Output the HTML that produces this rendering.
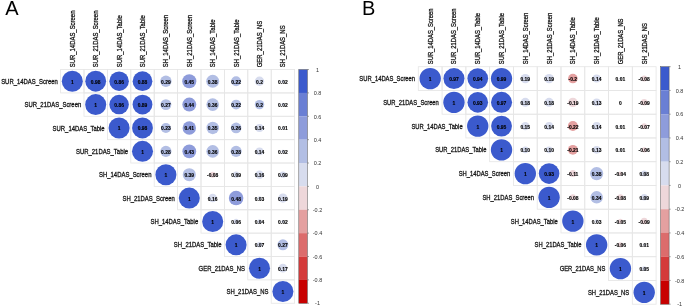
<!DOCTYPE html>
<html><head><meta charset="utf-8"><style>
html,body{margin:0;padding:0;background:#fff;width:685px;height:307px;overflow:hidden}
svg{display:block;will-change:transform}
text{font-family:"Liberation Sans",sans-serif}
</style></head><body>
<svg width="685" height="307" viewBox="0 0 685 307">
<rect width="685" height="307" fill="#fff"/>
<g fill="none" stroke="#e6e6e6" stroke-width="0.85"><rect x="60.60" y="69.55" width="23.40" height="23.37"/><rect x="84.00" y="69.55" width="23.40" height="23.37"/><rect x="107.40" y="69.55" width="23.40" height="23.37"/><rect x="130.80" y="69.55" width="23.40" height="23.37"/><rect x="154.20" y="69.55" width="23.40" height="23.37"/><rect x="177.60" y="69.55" width="23.40" height="23.37"/><rect x="201.00" y="69.55" width="23.40" height="23.37"/><rect x="224.40" y="69.55" width="23.40" height="23.37"/><rect x="247.80" y="69.55" width="23.40" height="23.37"/><rect x="271.20" y="69.55" width="23.40" height="23.37"/><rect x="84.00" y="92.92" width="23.40" height="23.37"/><rect x="107.40" y="92.92" width="23.40" height="23.37"/><rect x="130.80" y="92.92" width="23.40" height="23.37"/><rect x="154.20" y="92.92" width="23.40" height="23.37"/><rect x="177.60" y="92.92" width="23.40" height="23.37"/><rect x="201.00" y="92.92" width="23.40" height="23.37"/><rect x="224.40" y="92.92" width="23.40" height="23.37"/><rect x="247.80" y="92.92" width="23.40" height="23.37"/><rect x="271.20" y="92.92" width="23.40" height="23.37"/><rect x="107.40" y="116.29" width="23.40" height="23.37"/><rect x="130.80" y="116.29" width="23.40" height="23.37"/><rect x="154.20" y="116.29" width="23.40" height="23.37"/><rect x="177.60" y="116.29" width="23.40" height="23.37"/><rect x="201.00" y="116.29" width="23.40" height="23.37"/><rect x="224.40" y="116.29" width="23.40" height="23.37"/><rect x="247.80" y="116.29" width="23.40" height="23.37"/><rect x="271.20" y="116.29" width="23.40" height="23.37"/><rect x="130.80" y="139.66" width="23.40" height="23.37"/><rect x="154.20" y="139.66" width="23.40" height="23.37"/><rect x="177.60" y="139.66" width="23.40" height="23.37"/><rect x="201.00" y="139.66" width="23.40" height="23.37"/><rect x="224.40" y="139.66" width="23.40" height="23.37"/><rect x="247.80" y="139.66" width="23.40" height="23.37"/><rect x="271.20" y="139.66" width="23.40" height="23.37"/><rect x="154.20" y="163.03" width="23.40" height="23.37"/><rect x="177.60" y="163.03" width="23.40" height="23.37"/><rect x="201.00" y="163.03" width="23.40" height="23.37"/><rect x="224.40" y="163.03" width="23.40" height="23.37"/><rect x="247.80" y="163.03" width="23.40" height="23.37"/><rect x="271.20" y="163.03" width="23.40" height="23.37"/><rect x="177.60" y="186.40" width="23.40" height="23.37"/><rect x="201.00" y="186.40" width="23.40" height="23.37"/><rect x="224.40" y="186.40" width="23.40" height="23.37"/><rect x="247.80" y="186.40" width="23.40" height="23.37"/><rect x="271.20" y="186.40" width="23.40" height="23.37"/><rect x="201.00" y="209.77" width="23.40" height="23.37"/><rect x="224.40" y="209.77" width="23.40" height="23.37"/><rect x="247.80" y="209.77" width="23.40" height="23.37"/><rect x="271.20" y="209.77" width="23.40" height="23.37"/><rect x="224.40" y="233.14" width="23.40" height="23.37"/><rect x="247.80" y="233.14" width="23.40" height="23.37"/><rect x="271.20" y="233.14" width="23.40" height="23.37"/><rect x="247.80" y="256.51" width="23.40" height="23.37"/><rect x="271.20" y="256.51" width="23.40" height="23.37"/><rect x="271.20" y="279.88" width="23.40" height="23.37"/></g>
<g><circle cx="72.30" cy="81.23" r="10.52" fill="#3b5acd"/><circle cx="95.70" cy="81.23" r="10.41" fill="#3b5acd"/><circle cx="119.10" cy="81.23" r="9.75" fill="#3b5acd"/><circle cx="142.50" cy="81.23" r="9.87" fill="#3b5acd"/><circle cx="165.90" cy="81.23" r="5.66" fill="#b2bee4"/><circle cx="189.30" cy="81.23" r="7.05" fill="#8e9cdb"/><circle cx="212.70" cy="81.23" r="6.48" fill="#b2bee4"/><circle cx="236.10" cy="81.23" r="4.93" fill="#b2bee4"/><circle cx="259.50" cy="81.23" r="4.69" fill="#d7dcee"/><circle cx="282.90" cy="81.23" r="1.49" fill="#d7dcee"/><circle cx="95.70" cy="104.60" r="10.52" fill="#3b5acd"/><circle cx="119.10" cy="104.60" r="9.75" fill="#3b5acd"/><circle cx="142.50" cy="104.60" r="9.92" fill="#3b5acd"/><circle cx="165.90" cy="104.60" r="5.46" fill="#b2bee4"/><circle cx="189.30" cy="104.60" r="6.98" fill="#8e9cdb"/><circle cx="212.70" cy="104.60" r="6.31" fill="#b2bee4"/><circle cx="236.10" cy="104.60" r="4.93" fill="#b2bee4"/><circle cx="259.50" cy="104.60" r="4.71" fill="#b2bee4"/><circle cx="282.90" cy="104.60" r="1.49" fill="#d7dcee"/><circle cx="119.10" cy="127.97" r="10.52" fill="#3b5acd"/><circle cx="142.50" cy="127.97" r="10.41" fill="#3b5acd"/><circle cx="165.90" cy="127.97" r="5.04" fill="#b2bee4"/><circle cx="189.30" cy="127.97" r="6.73" fill="#8e9cdb"/><circle cx="212.70" cy="127.97" r="6.22" fill="#b2bee4"/><circle cx="236.10" cy="127.97" r="5.36" fill="#b2bee4"/><circle cx="259.50" cy="127.97" r="3.93" fill="#d7dcee"/><circle cx="282.90" cy="127.97" r="1.05" fill="#d7dcee"/><circle cx="142.50" cy="151.34" r="10.52" fill="#3b5acd"/><circle cx="165.90" cy="151.34" r="5.56" fill="#b2bee4"/><circle cx="189.30" cy="151.34" r="6.90" fill="#8e9cdb"/><circle cx="212.70" cy="151.34" r="6.31" fill="#b2bee4"/><circle cx="236.10" cy="151.34" r="5.56" fill="#b2bee4"/><circle cx="259.50" cy="151.34" r="3.93" fill="#d7dcee"/><circle cx="282.90" cy="151.34" r="1.49" fill="#d7dcee"/><circle cx="165.90" cy="174.72" r="10.52" fill="#3b5acd"/><circle cx="189.30" cy="174.72" r="6.57" fill="#b2bee4"/><circle cx="212.70" cy="174.72" r="2.97" fill="#eed7da"/><circle cx="236.10" cy="174.72" r="3.15" fill="#d7dcee"/><circle cx="259.50" cy="174.72" r="4.21" fill="#d7dcee"/><circle cx="282.90" cy="174.72" r="3.15" fill="#d7dcee"/><circle cx="189.30" cy="198.08" r="10.52" fill="#3b5acd"/><circle cx="212.70" cy="198.08" r="4.21" fill="#d7dcee"/><circle cx="236.10" cy="198.08" r="7.29" fill="#8e9cdb"/><circle cx="259.50" cy="198.08" r="1.82" fill="#d7dcee"/><circle cx="282.90" cy="198.08" r="4.58" fill="#d7dcee"/><circle cx="212.70" cy="221.45" r="10.52" fill="#3b5acd"/><circle cx="236.10" cy="221.45" r="2.58" fill="#d7dcee"/><circle cx="259.50" cy="221.45" r="2.10" fill="#d7dcee"/><circle cx="282.90" cy="221.45" r="1.49" fill="#d7dcee"/><circle cx="236.10" cy="244.82" r="10.52" fill="#3b5acd"/><circle cx="259.50" cy="244.82" r="2.78" fill="#d7dcee"/><circle cx="282.90" cy="244.82" r="5.46" fill="#b2bee4"/><circle cx="259.50" cy="268.19" r="10.52" fill="#3b5acd"/><circle cx="282.90" cy="268.19" r="4.34" fill="#d7dcee"/><circle cx="282.90" cy="291.56" r="10.52" fill="#3b5acd"/></g>
<g font-size="4.8" font-weight="bold" fill="#000" stroke="#000" stroke-width="0.12" text-anchor="middle"><text x="72.30" y="83.66" textLength="2.75" lengthAdjust="spacingAndGlyphs">1</text><text x="95.70" y="83.66" textLength="9.62" lengthAdjust="spacingAndGlyphs">0.98</text><text x="119.10" y="83.66" textLength="9.62" lengthAdjust="spacingAndGlyphs">0.86</text><text x="142.50" y="83.66" textLength="9.62" lengthAdjust="spacingAndGlyphs">0.88</text><text x="165.90" y="83.66" textLength="9.62" lengthAdjust="spacingAndGlyphs">0.29</text><text x="189.30" y="83.66" textLength="9.62" lengthAdjust="spacingAndGlyphs">0.45</text><text x="212.70" y="83.66" textLength="9.62" lengthAdjust="spacingAndGlyphs">0.38</text><text x="236.10" y="83.66" textLength="9.62" lengthAdjust="spacingAndGlyphs">0.22</text><text x="259.50" y="83.66" textLength="6.87" lengthAdjust="spacingAndGlyphs">0.2</text><text x="282.90" y="83.66" textLength="9.62" lengthAdjust="spacingAndGlyphs">0.02</text><text x="95.70" y="107.03" textLength="2.75" lengthAdjust="spacingAndGlyphs">1</text><text x="119.10" y="107.03" textLength="9.62" lengthAdjust="spacingAndGlyphs">0.86</text><text x="142.50" y="107.03" textLength="9.62" lengthAdjust="spacingAndGlyphs">0.89</text><text x="165.90" y="107.03" textLength="9.62" lengthAdjust="spacingAndGlyphs">0.27</text><text x="189.30" y="107.03" textLength="9.62" lengthAdjust="spacingAndGlyphs">0.44</text><text x="212.70" y="107.03" textLength="9.62" lengthAdjust="spacingAndGlyphs">0.36</text><text x="236.10" y="107.03" textLength="9.62" lengthAdjust="spacingAndGlyphs">0.22</text><text x="259.50" y="107.03" textLength="6.87" lengthAdjust="spacingAndGlyphs">0.2</text><text x="282.90" y="107.03" textLength="9.62" lengthAdjust="spacingAndGlyphs">0.02</text><text x="119.10" y="130.40" textLength="2.75" lengthAdjust="spacingAndGlyphs">1</text><text x="142.50" y="130.40" textLength="9.62" lengthAdjust="spacingAndGlyphs">0.98</text><text x="165.90" y="130.40" textLength="9.62" lengthAdjust="spacingAndGlyphs">0.23</text><text x="189.30" y="130.40" textLength="9.62" lengthAdjust="spacingAndGlyphs">0.41</text><text x="212.70" y="130.40" textLength="9.62" lengthAdjust="spacingAndGlyphs">0.35</text><text x="236.10" y="130.40" textLength="9.62" lengthAdjust="spacingAndGlyphs">0.26</text><text x="259.50" y="130.40" textLength="9.62" lengthAdjust="spacingAndGlyphs">0.14</text><text x="282.90" y="130.40" textLength="9.62" lengthAdjust="spacingAndGlyphs">0.01</text><text x="142.50" y="153.77" textLength="2.75" lengthAdjust="spacingAndGlyphs">1</text><text x="165.90" y="153.77" textLength="9.62" lengthAdjust="spacingAndGlyphs">0.28</text><text x="189.30" y="153.77" textLength="9.62" lengthAdjust="spacingAndGlyphs">0.43</text><text x="212.70" y="153.77" textLength="9.62" lengthAdjust="spacingAndGlyphs">0.36</text><text x="236.10" y="153.77" textLength="9.62" lengthAdjust="spacingAndGlyphs">0.28</text><text x="259.50" y="153.77" textLength="9.62" lengthAdjust="spacingAndGlyphs">0.14</text><text x="282.90" y="153.77" textLength="9.62" lengthAdjust="spacingAndGlyphs">0.02</text><text x="165.90" y="177.14" textLength="2.75" lengthAdjust="spacingAndGlyphs">1</text><text x="189.30" y="177.14" textLength="9.62" lengthAdjust="spacingAndGlyphs">0.39</text><text x="212.70" y="177.14" textLength="11.27" lengthAdjust="spacingAndGlyphs">-0.08</text><text x="236.10" y="177.14" textLength="9.62" lengthAdjust="spacingAndGlyphs">0.09</text><text x="259.50" y="177.14" textLength="9.62" lengthAdjust="spacingAndGlyphs">0.16</text><text x="282.90" y="177.14" textLength="9.62" lengthAdjust="spacingAndGlyphs">0.09</text><text x="189.30" y="200.51" textLength="2.75" lengthAdjust="spacingAndGlyphs">1</text><text x="212.70" y="200.51" textLength="9.62" lengthAdjust="spacingAndGlyphs">0.16</text><text x="236.10" y="200.51" textLength="9.62" lengthAdjust="spacingAndGlyphs">0.48</text><text x="259.50" y="200.51" textLength="9.62" lengthAdjust="spacingAndGlyphs">0.03</text><text x="282.90" y="200.51" textLength="9.62" lengthAdjust="spacingAndGlyphs">0.19</text><text x="212.70" y="223.88" textLength="2.75" lengthAdjust="spacingAndGlyphs">1</text><text x="236.10" y="223.88" textLength="9.62" lengthAdjust="spacingAndGlyphs">0.06</text><text x="259.50" y="223.88" textLength="9.62" lengthAdjust="spacingAndGlyphs">0.04</text><text x="282.90" y="223.88" textLength="9.62" lengthAdjust="spacingAndGlyphs">0.02</text><text x="236.10" y="247.25" textLength="2.75" lengthAdjust="spacingAndGlyphs">1</text><text x="259.50" y="247.25" textLength="9.62" lengthAdjust="spacingAndGlyphs">0.07</text><text x="282.90" y="247.25" textLength="9.62" lengthAdjust="spacingAndGlyphs">0.27</text><text x="259.50" y="270.62" textLength="2.75" lengthAdjust="spacingAndGlyphs">1</text><text x="282.90" y="270.62" textLength="9.62" lengthAdjust="spacingAndGlyphs">0.17</text><text x="282.90" y="293.99" textLength="2.75" lengthAdjust="spacingAndGlyphs">1</text></g>
<g font-size="7.0" fill="#111" stroke="#111" stroke-width="0.28" text-anchor="end"><text x="57.85" y="83.75" textLength="56.69" lengthAdjust="spacingAndGlyphs">SUR_14DAS_Screen</text><text x="81.25" y="107.12" textLength="56.69" lengthAdjust="spacingAndGlyphs">SUR_21DAS_Screen</text><text x="104.65" y="130.50" textLength="52.08" lengthAdjust="spacingAndGlyphs">SUR_14DAS_Table</text><text x="128.05" y="153.87" textLength="52.08" lengthAdjust="spacingAndGlyphs">SUR_21DAS_Table</text><text x="151.45" y="177.24" textLength="52.41" lengthAdjust="spacingAndGlyphs">SH_14DAS_Screen</text><text x="174.85" y="200.60" textLength="52.41" lengthAdjust="spacingAndGlyphs">SH_21DAS_Screen</text><text x="198.25" y="223.97" textLength="47.80" lengthAdjust="spacingAndGlyphs">SH_14DAS_Table</text><text x="221.65" y="247.34" textLength="47.80" lengthAdjust="spacingAndGlyphs">SH_21DAS_Table</text><text x="245.05" y="270.71" textLength="46.47" lengthAdjust="spacingAndGlyphs">GER_21DAS_NS</text><text x="268.45" y="294.08" textLength="41.86" lengthAdjust="spacingAndGlyphs">SH_21DAS_NS</text></g>
<g font-size="7.0" fill="#111" stroke="#111" stroke-width="0.28"><text transform="translate(74.82,67.25) rotate(-90)" textLength="56.69" lengthAdjust="spacingAndGlyphs">SUR_14DAS_Screen</text><text transform="translate(98.22,67.25) rotate(-90)" textLength="56.69" lengthAdjust="spacingAndGlyphs">SUR_21DAS_Screen</text><text transform="translate(121.62,67.25) rotate(-90)" textLength="52.08" lengthAdjust="spacingAndGlyphs">SUR_14DAS_Table</text><text transform="translate(145.02,67.25) rotate(-90)" textLength="52.08" lengthAdjust="spacingAndGlyphs">SUR_21DAS_Table</text><text transform="translate(168.42,67.25) rotate(-90)" textLength="52.41" lengthAdjust="spacingAndGlyphs">SH_14DAS_Screen</text><text transform="translate(191.82,67.25) rotate(-90)" textLength="52.41" lengthAdjust="spacingAndGlyphs">SH_21DAS_Screen</text><text transform="translate(215.22,67.25) rotate(-90)" textLength="47.80" lengthAdjust="spacingAndGlyphs">SH_14DAS_Table</text><text transform="translate(238.62,67.25) rotate(-90)" textLength="47.80" lengthAdjust="spacingAndGlyphs">SH_21DAS_Table</text><text transform="translate(262.02,67.25) rotate(-90)" textLength="46.47" lengthAdjust="spacingAndGlyphs">GER_21DAS_NS</text><text transform="translate(285.42,67.25) rotate(-90)" textLength="41.86" lengthAdjust="spacingAndGlyphs">SH_21DAS_NS</text></g>
<g><rect x="298.80" y="69.55" width="8.60" height="23.42" fill="#3b5acd"/><rect x="298.80" y="92.92" width="8.60" height="23.42" fill="#6a7fd4"/><rect x="298.80" y="116.29" width="8.60" height="23.42" fill="#8e9cdb"/><rect x="298.80" y="139.66" width="8.60" height="23.42" fill="#b2bee4"/><rect x="298.80" y="163.03" width="8.60" height="23.42" fill="#d7dcee"/><rect x="298.80" y="186.40" width="8.60" height="23.42" fill="#eed7da"/><rect x="298.80" y="209.77" width="8.60" height="23.42" fill="#e4a0a0"/><rect x="298.80" y="233.14" width="8.60" height="23.42" fill="#dc6c6c"/><rect x="298.80" y="256.51" width="8.60" height="23.42" fill="#d43a3a"/><rect x="298.80" y="279.88" width="8.60" height="23.42" fill="#c80000"/></g>
<rect x="298.80" y="69.55" width="8.60" height="233.70" fill="none" stroke="#555" stroke-width="0.5"/>
<g stroke="#666" stroke-width="0.6"><line x1="307.40" y1="69.55" x2="309.00" y2="69.55"/><line x1="307.40" y1="92.92" x2="309.00" y2="92.92"/><line x1="307.40" y1="116.29" x2="309.00" y2="116.29"/><line x1="307.40" y1="139.66" x2="309.00" y2="139.66"/><line x1="307.40" y1="163.03" x2="309.00" y2="163.03"/><line x1="307.40" y1="186.40" x2="309.00" y2="186.40"/><line x1="307.40" y1="209.77" x2="309.00" y2="209.77"/><line x1="307.40" y1="233.14" x2="309.00" y2="233.14"/><line x1="307.40" y1="256.51" x2="309.00" y2="256.51"/><line x1="307.40" y1="279.88" x2="309.00" y2="279.88"/><line x1="307.40" y1="303.25" x2="309.00" y2="303.25"/></g>
<g font-size="6.2" fill="#333" text-anchor="middle"><text x="317.50" y="71.78" textLength="3.03" lengthAdjust="spacingAndGlyphs">1</text><text x="317.50" y="95.15" textLength="7.58" lengthAdjust="spacingAndGlyphs">0.8</text><text x="317.50" y="118.52" textLength="7.58" lengthAdjust="spacingAndGlyphs">0.6</text><text x="317.50" y="141.89" textLength="7.58" lengthAdjust="spacingAndGlyphs">0.4</text><text x="317.50" y="165.26" textLength="7.58" lengthAdjust="spacingAndGlyphs">0.2</text><text x="317.50" y="188.63" textLength="3.03" lengthAdjust="spacingAndGlyphs">0</text><text x="317.50" y="212.00" textLength="9.40" lengthAdjust="spacingAndGlyphs">-0.2</text><text x="317.50" y="235.37" textLength="9.40" lengthAdjust="spacingAndGlyphs">-0.4</text><text x="317.50" y="258.74" textLength="9.40" lengthAdjust="spacingAndGlyphs">-0.6</text><text x="317.50" y="282.11" textLength="9.40" lengthAdjust="spacingAndGlyphs">-0.8</text><text x="317.50" y="305.48" textLength="4.85" lengthAdjust="spacingAndGlyphs">-1</text></g>
<text x="5.3" y="15.2" font-size="20" fill="#000">A</text>
<g fill="none" stroke="#e6e6e6" stroke-width="0.85"><rect x="418.30" y="66.70" width="23.78" height="23.75"/><rect x="442.08" y="66.70" width="23.78" height="23.75"/><rect x="465.86" y="66.70" width="23.78" height="23.75"/><rect x="489.64" y="66.70" width="23.78" height="23.75"/><rect x="513.42" y="66.70" width="23.78" height="23.75"/><rect x="537.20" y="66.70" width="23.78" height="23.75"/><rect x="560.98" y="66.70" width="23.78" height="23.75"/><rect x="584.76" y="66.70" width="23.78" height="23.75"/><rect x="608.54" y="66.70" width="23.78" height="23.75"/><rect x="632.32" y="66.70" width="23.78" height="23.75"/><rect x="442.08" y="90.45" width="23.78" height="23.75"/><rect x="465.86" y="90.45" width="23.78" height="23.75"/><rect x="489.64" y="90.45" width="23.78" height="23.75"/><rect x="513.42" y="90.45" width="23.78" height="23.75"/><rect x="537.20" y="90.45" width="23.78" height="23.75"/><rect x="560.98" y="90.45" width="23.78" height="23.75"/><rect x="584.76" y="90.45" width="23.78" height="23.75"/><rect x="608.54" y="90.45" width="23.78" height="23.75"/><rect x="632.32" y="90.45" width="23.78" height="23.75"/><rect x="465.86" y="114.20" width="23.78" height="23.75"/><rect x="489.64" y="114.20" width="23.78" height="23.75"/><rect x="513.42" y="114.20" width="23.78" height="23.75"/><rect x="537.20" y="114.20" width="23.78" height="23.75"/><rect x="560.98" y="114.20" width="23.78" height="23.75"/><rect x="584.76" y="114.20" width="23.78" height="23.75"/><rect x="608.54" y="114.20" width="23.78" height="23.75"/><rect x="632.32" y="114.20" width="23.78" height="23.75"/><rect x="489.64" y="137.95" width="23.78" height="23.75"/><rect x="513.42" y="137.95" width="23.78" height="23.75"/><rect x="537.20" y="137.95" width="23.78" height="23.75"/><rect x="560.98" y="137.95" width="23.78" height="23.75"/><rect x="584.76" y="137.95" width="23.78" height="23.75"/><rect x="608.54" y="137.95" width="23.78" height="23.75"/><rect x="632.32" y="137.95" width="23.78" height="23.75"/><rect x="513.42" y="161.70" width="23.78" height="23.75"/><rect x="537.20" y="161.70" width="23.78" height="23.75"/><rect x="560.98" y="161.70" width="23.78" height="23.75"/><rect x="584.76" y="161.70" width="23.78" height="23.75"/><rect x="608.54" y="161.70" width="23.78" height="23.75"/><rect x="632.32" y="161.70" width="23.78" height="23.75"/><rect x="537.20" y="185.45" width="23.78" height="23.75"/><rect x="560.98" y="185.45" width="23.78" height="23.75"/><rect x="584.76" y="185.45" width="23.78" height="23.75"/><rect x="608.54" y="185.45" width="23.78" height="23.75"/><rect x="632.32" y="185.45" width="23.78" height="23.75"/><rect x="560.98" y="209.20" width="23.78" height="23.75"/><rect x="584.76" y="209.20" width="23.78" height="23.75"/><rect x="608.54" y="209.20" width="23.78" height="23.75"/><rect x="632.32" y="209.20" width="23.78" height="23.75"/><rect x="584.76" y="232.95" width="23.78" height="23.75"/><rect x="608.54" y="232.95" width="23.78" height="23.75"/><rect x="632.32" y="232.95" width="23.78" height="23.75"/><rect x="608.54" y="256.70" width="23.78" height="23.75"/><rect x="632.32" y="256.70" width="23.78" height="23.75"/><rect x="632.32" y="280.45" width="23.78" height="23.75"/></g>
<g><circle cx="430.19" cy="78.58" r="10.69" fill="#3b5acd"/><circle cx="453.97" cy="78.58" r="10.53" fill="#3b5acd"/><circle cx="477.75" cy="78.58" r="10.36" fill="#3b5acd"/><circle cx="501.53" cy="78.58" r="10.63" fill="#3b5acd"/><circle cx="525.31" cy="78.58" r="4.66" fill="#d7dcee"/><circle cx="549.09" cy="78.58" r="4.66" fill="#d7dcee"/><circle cx="572.87" cy="78.58" r="4.79" fill="#e4a0a0"/><circle cx="596.65" cy="78.58" r="4.00" fill="#d7dcee"/><circle cx="620.43" cy="78.58" r="1.07" fill="#d7dcee"/><circle cx="644.21" cy="78.58" r="3.02" fill="#eed7da"/><circle cx="453.97" cy="102.33" r="10.69" fill="#3b5acd"/><circle cx="477.75" cy="102.33" r="10.31" fill="#3b5acd"/><circle cx="501.53" cy="102.33" r="10.53" fill="#3b5acd"/><circle cx="525.31" cy="102.33" r="4.53" fill="#d7dcee"/><circle cx="549.09" cy="102.33" r="4.53" fill="#d7dcee"/><circle cx="572.87" cy="102.33" r="4.66" fill="#eed7da"/><circle cx="596.65" cy="102.33" r="3.85" fill="#d7dcee"/><circle cx="644.21" cy="102.33" r="3.21" fill="#eed7da"/><circle cx="477.75" cy="126.08" r="10.69" fill="#3b5acd"/><circle cx="501.53" cy="126.08" r="10.42" fill="#3b5acd"/><circle cx="525.31" cy="126.08" r="4.14" fill="#d7dcee"/><circle cx="549.09" cy="126.08" r="4.00" fill="#d7dcee"/><circle cx="572.87" cy="126.08" r="5.01" fill="#e4a0a0"/><circle cx="596.65" cy="126.08" r="4.00" fill="#d7dcee"/><circle cx="620.43" cy="126.08" r="1.07" fill="#d7dcee"/><circle cx="644.21" cy="126.08" r="2.83" fill="#eed7da"/><circle cx="501.53" cy="149.82" r="10.69" fill="#3b5acd"/><circle cx="525.31" cy="149.82" r="3.38" fill="#d7dcee"/><circle cx="549.09" cy="149.82" r="3.38" fill="#d7dcee"/><circle cx="572.87" cy="149.82" r="4.90" fill="#e4a0a0"/><circle cx="596.65" cy="149.82" r="3.85" fill="#d7dcee"/><circle cx="620.43" cy="149.82" r="1.07" fill="#d7dcee"/><circle cx="644.21" cy="149.82" r="2.62" fill="#eed7da"/><circle cx="525.31" cy="173.57" r="10.69" fill="#3b5acd"/><circle cx="549.09" cy="173.57" r="10.31" fill="#3b5acd"/><circle cx="572.87" cy="173.57" r="3.54" fill="#eed7da"/><circle cx="596.65" cy="173.57" r="6.59" fill="#b2bee4"/><circle cx="620.43" cy="173.57" r="2.14" fill="#eed7da"/><circle cx="644.21" cy="173.57" r="3.02" fill="#d7dcee"/><circle cx="549.09" cy="197.32" r="10.69" fill="#3b5acd"/><circle cx="572.87" cy="197.32" r="3.02" fill="#eed7da"/><circle cx="596.65" cy="197.32" r="6.23" fill="#b2bee4"/><circle cx="620.43" cy="197.32" r="3.02" fill="#eed7da"/><circle cx="644.21" cy="197.32" r="3.21" fill="#d7dcee"/><circle cx="572.87" cy="221.07" r="10.69" fill="#3b5acd"/><circle cx="596.65" cy="221.07" r="1.85" fill="#d7dcee"/><circle cx="620.43" cy="221.07" r="2.39" fill="#eed7da"/><circle cx="644.21" cy="221.07" r="3.21" fill="#eed7da"/><circle cx="596.65" cy="244.82" r="10.69" fill="#3b5acd"/><circle cx="620.43" cy="244.82" r="2.62" fill="#eed7da"/><circle cx="644.21" cy="244.82" r="1.07" fill="#d7dcee"/><circle cx="620.43" cy="268.57" r="10.69" fill="#3b5acd"/><circle cx="644.21" cy="268.57" r="2.39" fill="#d7dcee"/><circle cx="644.21" cy="292.32" r="10.69" fill="#3b5acd"/></g>
<g font-size="4.8" font-weight="bold" fill="#000" stroke="#000" stroke-width="0.12" text-anchor="middle"><text x="430.19" y="81.00" textLength="2.75" lengthAdjust="spacingAndGlyphs">1</text><text x="453.97" y="81.00" textLength="9.62" lengthAdjust="spacingAndGlyphs">0.97</text><text x="477.75" y="81.00" textLength="9.62" lengthAdjust="spacingAndGlyphs">0.94</text><text x="501.53" y="81.00" textLength="9.62" lengthAdjust="spacingAndGlyphs">0.99</text><text x="525.31" y="81.00" textLength="9.62" lengthAdjust="spacingAndGlyphs">0.19</text><text x="549.09" y="81.00" textLength="9.62" lengthAdjust="spacingAndGlyphs">0.19</text><text x="572.87" y="81.00" textLength="8.52" lengthAdjust="spacingAndGlyphs">-0.2</text><text x="596.65" y="81.00" textLength="9.62" lengthAdjust="spacingAndGlyphs">0.14</text><text x="620.43" y="81.00" textLength="9.62" lengthAdjust="spacingAndGlyphs">0.01</text><text x="644.21" y="81.00" textLength="11.27" lengthAdjust="spacingAndGlyphs">-0.08</text><text x="453.97" y="104.75" textLength="2.75" lengthAdjust="spacingAndGlyphs">1</text><text x="477.75" y="104.75" textLength="9.62" lengthAdjust="spacingAndGlyphs">0.93</text><text x="501.53" y="104.75" textLength="9.62" lengthAdjust="spacingAndGlyphs">0.97</text><text x="525.31" y="104.75" textLength="9.62" lengthAdjust="spacingAndGlyphs">0.18</text><text x="549.09" y="104.75" textLength="9.62" lengthAdjust="spacingAndGlyphs">0.18</text><text x="572.87" y="104.75" textLength="11.27" lengthAdjust="spacingAndGlyphs">-0.19</text><text x="596.65" y="104.75" textLength="9.62" lengthAdjust="spacingAndGlyphs">0.13</text><text x="620.43" y="104.75" textLength="2.75" lengthAdjust="spacingAndGlyphs">0</text><text x="644.21" y="104.75" textLength="11.27" lengthAdjust="spacingAndGlyphs">-0.09</text><text x="477.75" y="128.50" textLength="2.75" lengthAdjust="spacingAndGlyphs">1</text><text x="501.53" y="128.50" textLength="9.62" lengthAdjust="spacingAndGlyphs">0.95</text><text x="525.31" y="128.50" textLength="9.62" lengthAdjust="spacingAndGlyphs">0.15</text><text x="549.09" y="128.50" textLength="9.62" lengthAdjust="spacingAndGlyphs">0.14</text><text x="572.87" y="128.50" textLength="11.27" lengthAdjust="spacingAndGlyphs">-0.22</text><text x="596.65" y="128.50" textLength="9.62" lengthAdjust="spacingAndGlyphs">0.14</text><text x="620.43" y="128.50" textLength="9.62" lengthAdjust="spacingAndGlyphs">0.01</text><text x="644.21" y="128.50" textLength="11.27" lengthAdjust="spacingAndGlyphs">-0.07</text><text x="501.53" y="152.25" textLength="2.75" lengthAdjust="spacingAndGlyphs">1</text><text x="525.31" y="152.25" textLength="9.62" lengthAdjust="spacingAndGlyphs">0.10</text><text x="549.09" y="152.25" textLength="9.62" lengthAdjust="spacingAndGlyphs">0.10</text><text x="572.87" y="152.25" textLength="11.27" lengthAdjust="spacingAndGlyphs">-0.21</text><text x="596.65" y="152.25" textLength="9.62" lengthAdjust="spacingAndGlyphs">0.13</text><text x="620.43" y="152.25" textLength="9.62" lengthAdjust="spacingAndGlyphs">0.01</text><text x="644.21" y="152.25" textLength="11.27" lengthAdjust="spacingAndGlyphs">-0.06</text><text x="525.31" y="176.00" textLength="2.75" lengthAdjust="spacingAndGlyphs">1</text><text x="549.09" y="176.00" textLength="9.62" lengthAdjust="spacingAndGlyphs">0.93</text><text x="572.87" y="176.00" textLength="11.00" lengthAdjust="spacingAndGlyphs">-0.11</text><text x="596.65" y="176.00" textLength="9.62" lengthAdjust="spacingAndGlyphs">0.38</text><text x="620.43" y="176.00" textLength="11.27" lengthAdjust="spacingAndGlyphs">-0.04</text><text x="644.21" y="176.00" textLength="9.62" lengthAdjust="spacingAndGlyphs">0.08</text><text x="549.09" y="199.75" textLength="2.75" lengthAdjust="spacingAndGlyphs">1</text><text x="572.87" y="199.75" textLength="11.27" lengthAdjust="spacingAndGlyphs">-0.08</text><text x="596.65" y="199.75" textLength="9.62" lengthAdjust="spacingAndGlyphs">0.34</text><text x="620.43" y="199.75" textLength="11.27" lengthAdjust="spacingAndGlyphs">-0.08</text><text x="644.21" y="199.75" textLength="9.62" lengthAdjust="spacingAndGlyphs">0.09</text><text x="572.87" y="223.50" textLength="2.75" lengthAdjust="spacingAndGlyphs">1</text><text x="596.65" y="223.50" textLength="9.62" lengthAdjust="spacingAndGlyphs">0.03</text><text x="620.43" y="223.50" textLength="11.27" lengthAdjust="spacingAndGlyphs">-0.05</text><text x="644.21" y="223.50" textLength="11.27" lengthAdjust="spacingAndGlyphs">-0.09</text><text x="596.65" y="247.25" textLength="2.75" lengthAdjust="spacingAndGlyphs">1</text><text x="620.43" y="247.25" textLength="11.27" lengthAdjust="spacingAndGlyphs">-0.06</text><text x="644.21" y="247.25" textLength="9.62" lengthAdjust="spacingAndGlyphs">0.01</text><text x="620.43" y="271.00" textLength="2.75" lengthAdjust="spacingAndGlyphs">1</text><text x="644.21" y="271.00" textLength="9.62" lengthAdjust="spacingAndGlyphs">0.05</text><text x="644.21" y="294.75" textLength="2.75" lengthAdjust="spacingAndGlyphs">1</text></g>
<g font-size="7.0" fill="#111" stroke="#111" stroke-width="0.28" text-anchor="end"><text x="415.10" y="81.09" textLength="55.74" lengthAdjust="spacingAndGlyphs">SUR_14DAS_Screen</text><text x="438.88" y="104.84" textLength="55.74" lengthAdjust="spacingAndGlyphs">SUR_21DAS_Screen</text><text x="462.66" y="128.59" textLength="51.20" lengthAdjust="spacingAndGlyphs">SUR_14DAS_Table</text><text x="486.44" y="152.34" textLength="51.20" lengthAdjust="spacingAndGlyphs">SUR_21DAS_Table</text><text x="510.22" y="176.09" textLength="51.53" lengthAdjust="spacingAndGlyphs">SH_14DAS_Screen</text><text x="534.00" y="199.84" textLength="51.53" lengthAdjust="spacingAndGlyphs">SH_21DAS_Screen</text><text x="557.78" y="223.59" textLength="46.99" lengthAdjust="spacingAndGlyphs">SH_14DAS_Table</text><text x="581.56" y="247.34" textLength="46.99" lengthAdjust="spacingAndGlyphs">SH_21DAS_Table</text><text x="605.34" y="271.09" textLength="45.69" lengthAdjust="spacingAndGlyphs">GER_21DAS_NS</text><text x="629.12" y="294.84" textLength="41.15" lengthAdjust="spacingAndGlyphs">SH_21DAS_NS</text></g>
<g font-size="7.0" fill="#111" stroke="#111" stroke-width="0.28"><text transform="translate(432.71,64.20) rotate(-90)" textLength="55.74" lengthAdjust="spacingAndGlyphs">SUR_14DAS_Screen</text><text transform="translate(456.49,64.20) rotate(-90)" textLength="55.74" lengthAdjust="spacingAndGlyphs">SUR_21DAS_Screen</text><text transform="translate(480.27,64.20) rotate(-90)" textLength="51.20" lengthAdjust="spacingAndGlyphs">SUR_14DAS_Table</text><text transform="translate(504.05,64.20) rotate(-90)" textLength="51.20" lengthAdjust="spacingAndGlyphs">SUR_21DAS_Table</text><text transform="translate(527.83,64.20) rotate(-90)" textLength="51.53" lengthAdjust="spacingAndGlyphs">SH_14DAS_Screen</text><text transform="translate(551.61,64.20) rotate(-90)" textLength="51.53" lengthAdjust="spacingAndGlyphs">SH_21DAS_Screen</text><text transform="translate(575.39,64.20) rotate(-90)" textLength="46.99" lengthAdjust="spacingAndGlyphs">SH_14DAS_Table</text><text transform="translate(599.17,64.20) rotate(-90)" textLength="46.99" lengthAdjust="spacingAndGlyphs">SH_21DAS_Table</text><text transform="translate(622.95,64.20) rotate(-90)" textLength="45.69" lengthAdjust="spacingAndGlyphs">GER_21DAS_NS</text><text transform="translate(646.73,64.20) rotate(-90)" textLength="41.15" lengthAdjust="spacingAndGlyphs">SH_21DAS_NS</text></g>
<g><rect x="660.60" y="66.70" width="8.50" height="23.80" fill="#3b5acd"/><rect x="660.60" y="90.45" width="8.50" height="23.80" fill="#6a7fd4"/><rect x="660.60" y="114.20" width="8.50" height="23.80" fill="#8e9cdb"/><rect x="660.60" y="137.95" width="8.50" height="23.80" fill="#b2bee4"/><rect x="660.60" y="161.70" width="8.50" height="23.80" fill="#d7dcee"/><rect x="660.60" y="185.45" width="8.50" height="23.80" fill="#eed7da"/><rect x="660.60" y="209.20" width="8.50" height="23.80" fill="#e4a0a0"/><rect x="660.60" y="232.95" width="8.50" height="23.80" fill="#dc6c6c"/><rect x="660.60" y="256.70" width="8.50" height="23.80" fill="#d43a3a"/><rect x="660.60" y="280.45" width="8.50" height="23.80" fill="#c80000"/></g>
<rect x="660.60" y="66.70" width="8.50" height="237.50" fill="none" stroke="#555" stroke-width="0.5"/>
<g stroke="#666" stroke-width="0.6"><line x1="669.10" y1="66.70" x2="670.70" y2="66.70"/><line x1="669.10" y1="90.45" x2="670.70" y2="90.45"/><line x1="669.10" y1="114.20" x2="670.70" y2="114.20"/><line x1="669.10" y1="137.95" x2="670.70" y2="137.95"/><line x1="669.10" y1="161.70" x2="670.70" y2="161.70"/><line x1="669.10" y1="185.45" x2="670.70" y2="185.45"/><line x1="669.10" y1="209.20" x2="670.70" y2="209.20"/><line x1="669.10" y1="232.95" x2="670.70" y2="232.95"/><line x1="669.10" y1="256.70" x2="670.70" y2="256.70"/><line x1="669.10" y1="280.45" x2="670.70" y2="280.45"/><line x1="669.10" y1="304.20" x2="670.70" y2="304.20"/></g>
<g font-size="6.2" fill="#333" text-anchor="middle"><text x="679.60" y="68.93" textLength="3.03" lengthAdjust="spacingAndGlyphs">1</text><text x="679.60" y="92.68" textLength="7.58" lengthAdjust="spacingAndGlyphs">0.8</text><text x="679.60" y="116.43" textLength="7.58" lengthAdjust="spacingAndGlyphs">0.6</text><text x="679.60" y="140.18" textLength="7.58" lengthAdjust="spacingAndGlyphs">0.4</text><text x="679.60" y="163.93" textLength="7.58" lengthAdjust="spacingAndGlyphs">0.2</text><text x="679.60" y="187.68" textLength="3.03" lengthAdjust="spacingAndGlyphs">0</text><text x="679.60" y="211.43" textLength="9.40" lengthAdjust="spacingAndGlyphs">-0.2</text><text x="679.60" y="235.18" textLength="9.40" lengthAdjust="spacingAndGlyphs">-0.4</text><text x="679.60" y="258.93" textLength="9.40" lengthAdjust="spacingAndGlyphs">-0.6</text><text x="679.60" y="282.68" textLength="9.40" lengthAdjust="spacingAndGlyphs">-0.8</text><text x="679.60" y="306.43" textLength="4.85" lengthAdjust="spacingAndGlyphs">-1</text></g>
<text x="362.1" y="15.2" font-size="20" fill="#000">B</text>
</svg>
</body></html>
